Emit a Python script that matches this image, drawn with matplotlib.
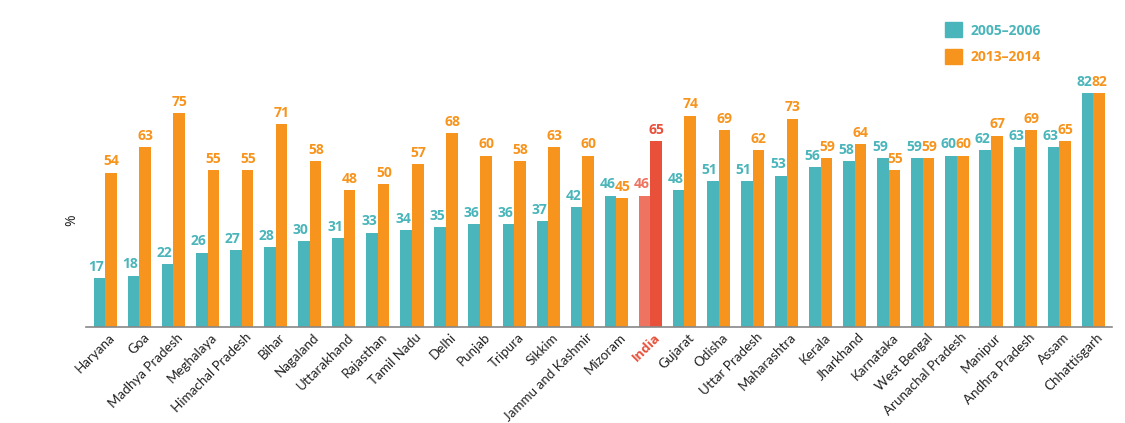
import numpy as np
import matplotlib.pyplot as plt

# datos
estados = ['Haryana', 'Goa', 'Madhya Pradesh', 'Meghalaya', 'Himachal Pradesh', 'Bihar',
           'Nagaland', 'Uttarakhand', 'Rajasthan', 'Tamil Nadu', 'Delhi', 'Punjab', 'Tripura',
           'Sikkim', 'Jammu and Kashmir', 'Mizoram', 'India', 'Gujarat', 'Odisha',
           'Uttar Pradesh', 'Maharashtra', 'Kerala', 'Jharkhand', 'Karnataka', 'West Bengal',
           'Arunachal Pradesh', 'Manipur', 'Andhra Pradesh', 'Assam', 'Chhattisgarh']
v2005 = [17, 18, 22, 26, 27, 28, 30, 31, 33, 34, 35, 36, 36, 37, 42, 46, 46, 48, 51, 51,
         53, 56, 58, 59, 59, 60, 62, 63, 63, 82]
v2013 = [54, 63, 75, 55, 55, 71, 58, 48, 50, 57, 68, 60, 58, 63, 60, 45, 65, 74, 69, 62,
         73, 59, 64, 55, 59, 60, 67, 69, 65, 82]
series = ['2005\u20132006', '2013\u20132014']

TEAL = '#4AB5BA'
ORANGE = '#F7941D'
SALMON = '#EF7361'
RED = '#E8503A'

plt.rcParams['font.family'] = ['Open Sans', 'DejaVu Sans']

fig = plt.figure(figsize=(11.25, 4.23), dpi=100)
ax = fig.add_axes([0.0764, 0.227, 0.912, 0.6076])

x = np.arange(len(estados))
w = 0.34
col1 = [SALMON if e == 'India' else TEAL for e in estados]
col2 = [RED if e == 'India' else ORANGE for e in estados]
b1 = ax.bar(x - w / 2, v2005, w, color=col1, label=series[0])
b2 = ax.bar(x + w / 2, v2013, w, color=col2, label=series[1])

# etiquetas de valores
for i in range(len(estados)):
    ax.text(x[i] - w / 2 - 0.09, v2005[i] + 1.5, str(v2005[i]), ha='center', va='bottom',
            fontsize=10, fontweight='bold', color=col1[i])
    ax.text(x[i] + w / 2 + 0.01, v2013[i] + 1.5, str(v2013[i]), ha='center', va='bottom',
            fontsize=10, fontweight='bold', color=col2[i])

ax.set_xlim(-0.57, 29.55)
ax.set_ylim(0, 90)
ax.set_yticks([])
ax.set_xticks(x + 0.1)
ax.set_xticklabels(estados, rotation=45, ha='right', rotation_mode='anchor', fontsize=9.6,
                   color='#222222', family=['Lato', 'DejaVu Sans'])
ax.tick_params(axis='x', length=0, pad=3)
for lab in ax.get_xticklabels():
    if lab.get_text() == 'India':
        lab.set_color(RED)
        lab.set_family(['Open Sans', 'DejaVu Sans'])
        lab.set_fontweight('bold')
for s in ['top', 'right', 'left']:
    ax.spines[s].set_visible(False)
ax.spines['bottom'].set_color('#888888')
ax.spines['bottom'].set_linewidth(1.2)

fig.text(72 / 1125, 1 - 220 / 423, '%', rotation=90, ha='center', va='center',
         fontsize=10, color='#222222')

leg = fig.legend(handles=[b1, b2], labels=series, loc='upper left',
                 bbox_to_anchor=(932 / 1125, 1 - 10 / 423), frameon=False,
                 labelcolor=[TEAL, ORANGE], prop={'weight': 'bold', 'size': 10},
                 handlelength=1.25, handleheight=1.25, handletextpad=0.6, labelspacing=0.85)
leg.legend_handles[0].set_color(TEAL)
leg.legend_handles[1].set_color(ORANGE)

fig.savefig('out.png', dpi=100)
